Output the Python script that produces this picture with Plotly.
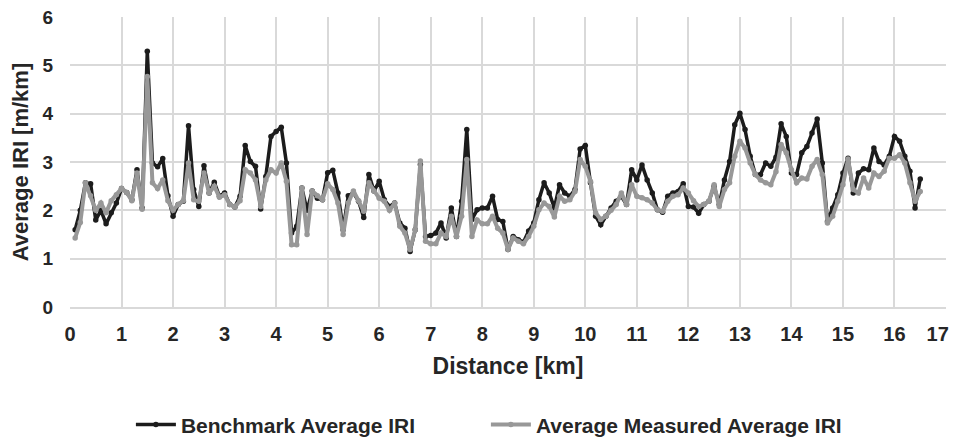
import plotly.graph_objects as go

distance_km = [round(0.1 * i, 1) for i in range(1, 166)]

benchmark_iri = [
    1.60, 2.00, 2.57, 2.55, 1.80, 2.00, 1.72, 1.95, 2.15, 2.45,
    2.37, 2.22, 2.84, 2.05, 5.29, 2.98, 2.90, 3.07, 2.30, 1.88,
    2.12, 2.19, 3.75, 2.43, 2.08, 2.92, 2.36, 2.58, 2.29, 2.36,
    2.12, 2.07, 2.29, 3.34, 3.01, 2.91, 2.03, 2.70, 3.53, 3.63,
    3.72, 2.98, 1.53, 1.67, 2.46, 2.00, 2.40, 2.25, 2.22, 2.78,
    2.83, 2.36, 1.60, 2.30, 2.36, 2.19, 1.85, 2.74, 2.40, 2.60,
    2.22, 2.08, 2.15, 1.74, 1.63, 1.15, 1.60, 2.95, 1.46, 1.48,
    1.53, 1.74, 1.43, 2.05, 1.46, 2.19, 3.67, 1.81, 2.01, 2.05,
    2.05, 2.29, 1.81, 1.77, 1.19, 1.46, 1.39, 1.34, 1.57, 1.74,
    2.22, 2.57, 2.36, 2.05, 2.53, 2.36, 2.29, 2.43, 3.27, 3.34,
    2.57, 1.88, 1.70, 1.88, 2.05, 2.19, 2.29, 2.12, 2.84, 2.63,
    2.94, 2.63, 2.36, 2.01, 1.96, 2.29, 2.36, 2.39, 2.55, 2.08,
    2.07, 1.94, 2.12, 2.19, 2.50, 2.12, 2.63, 3.01, 3.77, 4.01,
    3.67, 3.12, 2.74, 2.74, 2.98, 2.91, 3.10, 3.79, 3.53, 2.77,
    2.74, 3.19, 3.32, 3.60, 3.89, 2.98, 1.77, 2.05, 2.32, 2.77,
    3.08, 2.36, 2.77, 2.86, 2.84, 3.29, 3.01, 2.94, 3.12, 3.53,
    3.43, 3.12, 2.81, 2.05, 2.65,
]

measured_iri = [
    1.43, 1.75, 2.57, 2.30, 2.00, 2.15, 1.95, 2.20, 2.32, 2.45,
    2.37, 2.20, 2.77, 2.02, 4.77, 2.57, 2.45, 2.63, 2.20, 2.00,
    2.12, 2.20, 2.98, 2.22, 2.19, 2.77, 2.36, 2.50, 2.27, 2.32,
    2.12, 2.07, 2.20, 2.84, 2.77, 2.63, 2.08, 2.63, 2.84, 2.77,
    2.98, 2.60, 1.29, 1.29, 2.46, 1.50, 2.40, 2.30, 2.22, 2.55,
    2.43, 2.15, 1.50, 2.15, 2.40, 2.20, 1.98, 2.57, 2.40, 2.25,
    2.19, 2.00, 2.15, 1.67, 1.53, 1.19, 1.60, 3.02, 1.36, 1.31,
    1.31, 1.53, 1.46, 1.88, 1.46, 1.88, 3.05, 1.46, 1.80, 1.72,
    1.72, 1.88, 1.63, 1.53, 1.19, 1.43, 1.36, 1.31, 1.46, 1.67,
    2.01, 2.15, 2.08, 1.86, 2.29, 2.19, 2.22, 2.39, 3.05, 2.91,
    2.60, 1.95, 1.81, 1.88, 2.00, 2.12, 2.36, 2.12, 2.53, 2.29,
    2.26, 2.22, 2.15, 2.01, 1.98, 2.19, 2.29, 2.32, 2.46, 2.36,
    2.20, 2.08, 2.12, 2.19, 2.53, 2.08, 2.43, 2.57, 3.12, 3.43,
    3.29, 2.98, 2.74, 2.63, 2.57, 2.53, 2.80, 3.36, 3.19, 2.84,
    2.57, 2.67, 2.65, 2.91, 3.05, 2.74, 1.74, 1.88, 2.19, 2.53,
    3.06, 2.43, 2.36, 2.67, 2.46, 2.77, 2.70, 2.81, 3.08, 3.08,
    3.15, 2.98, 2.57, 2.19, 2.39,
]

x_ticks = list(range(0, 18))
y_ticks = list(range(0, 7))

FONT = "Liberation Sans, Arial, sans-serif"
TEXT = "#262626"

# last x label nudged left (trailing spaces) so it stays inside the page
x_ticktext = [f"<b>{v}</b>" for v in x_ticks]
x_ticktext[-1] = f"<b>{x_ticks[-1]}</b>&nbsp;&nbsp;&nbsp;"

fig = go.Figure()
fig.add_trace(go.Scatter(
    x=distance_km, y=benchmark_iri, name="Benchmark Average IRI",
    mode="lines+markers",
    line=dict(color="#1c1c1c", width=3.5),
    marker=dict(color="#1c1c1c", size=5.5),
))
fig.add_trace(go.Scatter(
    x=distance_km, y=measured_iri, name="Average Measured Average IRI",
    mode="lines+markers",
    line=dict(color="#989898", width=4),
    marker=dict(color="#989898", size=5.5),
))

# the page places the figure 8px from the top-left corner
fig.update_layout(
    width=952, height=431,
    margin=dict(l=62, r=14, t=9, b=132, autoexpand=False),
    paper_bgcolor="white", plot_bgcolor="white",
    font=dict(family=FONT, color=TEXT, size=20),
    showlegend=True,
    legend=dict(
        orientation="h", xref="container", x=0.502, xanchor="center",
        yref="container", y=0.033, yanchor="middle",
        font=dict(family=FONT, size=21, color=TEXT, weight="bold"),
        entrywidth=300, itemwidth=40,
    ),
)
fig.update_xaxes(
    range=[0, 17], tickmode="array", tickvals=x_ticks,
    ticktext=x_ticktext,
    showgrid=True, gridcolor="#d9d9d9", gridwidth=1.5,
    zeroline=False, showline=True, linecolor="#d9d9d9", linewidth=1.5,
    ticks="", tickfont=dict(size=20, color=TEXT), ticklabelstandoff=8,
    ticklabeloverflow="allow", automargin=False,
    title=dict(text="<b>Distance [km]</b>", font=dict(size=23, color=TEXT), standoff=14),
)
fig.update_yaxes(
    range=[0, 6], tickmode="array", tickvals=y_ticks,
    ticktext=[f"<b>{v}</b>" for v in y_ticks],
    showgrid=True, gridcolor="#d9d9d9", gridwidth=1.5,
    zeroline=False, showline=False,
    ticks="", tickfont=dict(size=19, color=TEXT), ticklabelstandoff=16,
    ticklabeloverflow="allow", automargin=False,
    title=dict(text="<b>Average IRI [m/km]</b>", font=dict(size=22, color=TEXT), standoff=10),
)

fig.write_html("out.html")
